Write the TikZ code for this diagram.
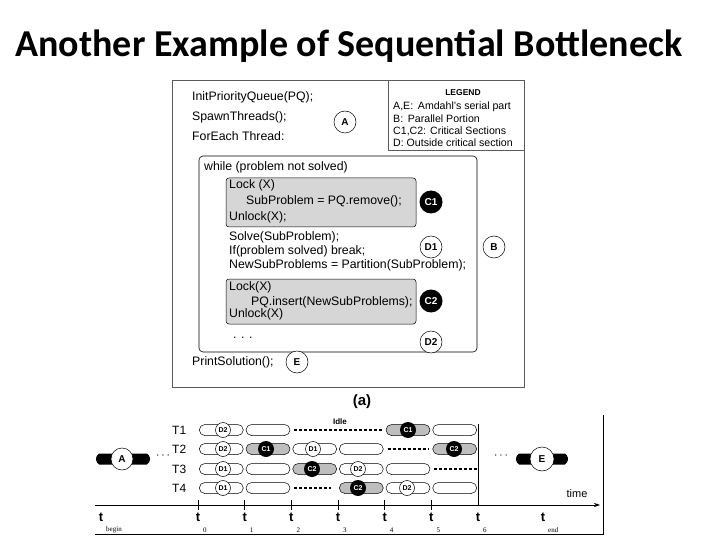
\documentclass[tikz,border=0pt]{standalone}
\usepackage{fontspec}
\setmainfont{Liberation Sans}
\newfontfamily\titlefont{Carlito}
\newfontfamily\serfont{Liberation Serif}
\usetikzlibrary{arrows.meta,shapes.misc}
\definecolor{codegray}{RGB}{214,214,214}
\definecolor{bargray}{RGB}{190,190,190}
\definecolor{framegray}{RGB}{90,90,90}
\begin{document}
\begin{tikzpicture}[x=1pt,y=-1pt,
  frame/.style={draw=framegray, line width=0.8pt},
  graybox/.style={draw=black, fill=codegray, line width=0.5pt, rounded corners=3pt},
  code/.style={anchor=west, inner sep=0pt, font=\fontsize{12.3}{14}\selectfont},
  leg/.style={anchor=west, inner sep=0pt, font=\fontsize{10.6}{11}\selectfont},
  wcirc/.style={circle, draw, line width=0.5pt, fill=white, minimum size=22pt, inner sep=0pt, font=\bfseries\fontsize{10}{12}\selectfont},
  bcirc/.style={circle, fill=black, text=white, minimum size=23pt, inner sep=0pt, font=\bfseries\fontsize{10}{12}\selectfont},
  seg/.style={rounded rectangle, draw, line width=0.5pt, fill=white, minimum width=44pt, minimum height=11pt, inner sep=0pt},
  gseg/.style={seg, fill=bargray},
  swc/.style={circle, draw, line width=0.5pt, fill=white, minimum size=15pt, inner sep=0pt, font=\bfseries\fontsize{7}{8}\selectfont},
  sbc/.style={circle, fill=black, text=white, minimum size=16pt, inner sep=0pt, font=\bfseries\fontsize{7}{8}\selectfont},
  idle/.style={line width=1.6pt, dash pattern=on 3pt off 2pt},
  rowlab/.style={anchor=west, inner sep=0pt, font=\fontsize{12}{14}\selectfont},
  tlab/.style={inner sep=0pt, font=\bfseries\fontsize{13}{14}\selectfont},
  tsub/.style={anchor=west, inner sep=0pt, font=\serfont\fontsize{7}{8}\selectfont},
  bbar/.style={rounded rectangle, rounded rectangle arc length=120, fill=black, minimum height=11pt, inner sep=0pt}
]
\useasboundingbox (0,0) rectangle (720,540);

% title
\node[inner sep=0pt, font=\titlefont\bfseries\fontsize{38}{42}\selectfont] (title) at (349,46) {Another Example of Sequential Bottleneck};

% code frames
\draw[frame] (172,80) rectangle (524,387);
\draw[frame] (388,80) rectangle (524,150);
\draw[line width=0.6pt, rounded corners=4pt] (199,156) rectangle (477,352);
\draw[graybox] (226,178) rectangle (416,227);
\draw[graybox] (226,279) rectangle (416,324);

% legend
\node[inner sep=0pt, font=\bfseries\fontsize{8.5}{10}\selectfont] (legt) at (463,93) {LEGEND};
\node[leg] (leg1) at (393,107) {A,E:\,\ Amdahl's serial part};
\node[leg] (leg2) at (393,119) {B:\,\ Parallel Portion};
\node[leg] (leg3) at (393,131) {C1,C2: Critical Sections};
\node[leg] (leg4) at (393,143) {D: Outside critical section};

% code text
\node[code] (l1) at (192,97) {InitPriorityQueue(PQ);};
\node[code] (l2) at (192,117) {SpawnThreads();};
\node[code] (l3) at (192,136) {ForEach Thread:};
\node[code] (l4) at (204,167) {while (problem not solved)};
\node[code] (l5) at (229,185) {Lock (X)};
\node[code] (l6) at (246,201) {SubProblem = PQ.remove();};
\node[code] (l7) at (229,217) {Unlock(X);};
\node[code] (l8) at (229,237) {Solve(SubProblem);};
\node[code] (l9) at (229,251) {If(problem solved) break;};
\node[code] (l10) at (229,265) {NewSubProblems = Partition(SubProblem);};
\node[code] (l11) at (229,287) {Lock(X)};
\node[code] (l12) at (251,302) {PQ.insert(NewSubProblems);};
\node[code] (l13) at (229,314) {Unlock(X)};
\node[code] (l14) at (233,338) {. . .};
\node[code] (l15) at (192,362) {PrintSolution();};

% code circles
\node[wcirc] (cA) at (345,122) {A};
\node[bcirc] (cC1) at (431,202) {C1};
\node[wcirc] (cD1) at (431,247) {D1};
\node[wcirc] (cB) at (494,247) {B};
\node[bcirc] (cC2) at (431,301) {C2};
\node[wcirc] (cD2) at (431,342) {D2};
\node[wcirc] (cE) at (297,362) {E};

% caption
\node[inner sep=0pt, font=\bfseries\fontsize{15}{16}\selectfont] (cap) at (362,402) {(a)};

% rows labels
\node[rowlab] (T1) at (172,430) {T1};
\node[rowlab] (T2) at (172,449) {T2};
\node[rowlab] (T3) at (172,469) {T3};
\node[rowlab] (T4) at (172,488) {T4};

% T1
\node[seg] (a1) at (221.3,430) {};
\node[seg] (a2) at (268.0,430) {};
\node[gseg] (a5) at (408.0,430) {};
\node[seg] (a6) at (454.7,430) {};
\node[swc] (a1c) at (223,430) {D2};
\node[sbc] (a5c) at (408,430) {C1};
\draw[idle] (a2.east) ++(4,0) coordinate (i1s) -- ([xshift=-3pt]a5.west) coordinate (i1e);
\node[inner sep=0pt, font=\bfseries\fontsize{8}{9}\selectfont] (idlelab) at (340,422) {Idle};

% T2
\node[seg] (b1) at (221.3,449) {};
\node[gseg] (b2) at (268.0,449) {};
\node[seg] (b3) at (314.7,449) {};
\node[seg] (b4) at (361.3,449) {};
\node[gseg] (b6) at (454.7,449) {};
\node[swc] (b1c) at (223,449) {D2};
\node[sbc] (b2c) at (266,449) {C1};
\node[swc] (b3c) at (313,449) {D1};
\node[sbc] (b6c) at (454,449) {C2};
\draw[idle] ([xshift=4pt]b4.east) -- ([xshift=-3pt]b6.west);

% T3
\node[seg] (c1) at (221.3,469) {};
\node[seg] (c2) at (268.0,469) {};
\node[gseg] (c3) at (314.7,469) {};
\node[seg] (c4) at (361.3,469) {};
\node[seg] (c5) at (408.0,469) {};
\node[swc] (c1c) at (223,469) {D1};
\node[sbc] (c3c) at (312,469) {C2};
\node[swc] (c4c) at (358,469) {D2};
\coordinate (c6e) at (478,469);
\draw[idle] ([xshift=4pt]c5.east) -- (c6e);

% T4
\node[seg] (d1) at (221.3,488) {};
\node[seg] (d2) at (268.0,488) {};
\node[gseg] (d4) at (361.3,488) {};
\node[seg] (d5) at (408.0,488) {};
\node[seg] (d6) at (454.7,488) {};
\node[swc] (d1c) at (223,488) {D1};
\node[sbc] (d4c) at (358,488) {C2};
\node[swc] (d5c) at (407,488) {D2};
\draw[idle] ([xshift=4pt]d2.east) -- ([xshift=-8pt]d4.west);

% A and E bars
\node[bbar, minimum width=54pt] (Abar) at (123,459) {};
\node[wcirc, minimum size=22pt] (Ac) at (122,459) {A};
\node[inner sep=0pt, font=\bfseries\fontsize{12}{12}\selectfont] (Adots) at (163,456) {$\cdots$};
\node[bbar, minimum width=52pt] (Ebar) at (542,459) {};
\node[wcirc, minimum size=24pt] (Ec) at (542,459) {E};
\node[inner sep=0pt, font=\bfseries\fontsize{12}{12}\selectfont] (Edots) at (501,456) {$\cdots$};

% axis
\coordinate (ax0) at (95,505);
\coordinate (ax1) at (600,505);
\draw[line width=0.6pt, -{Stealth[length=6pt,width=4pt]}] (ax0) -- (ax1);
\node[inner sep=0pt, font=\fontsize{11}{12}\selectfont] (timelab) at (577,494) {time};
\foreach \i/\x in {0/198,1/244.7,2/291.3,3/338,4/384.7,5/431.3} {
  \draw[line width=0.5pt] (\x,500) -- (\x,510);
}
\coordinate (t6top) at (478,424);
\coordinate (t6bot) at (478,505);
\draw[line width=0.6pt] (t6top) -- (t6bot);

% frame of timeline
\coordinate (fr1) at (603,415);
\coordinate (fr2) at (603,534);
\coordinate (fr3) at (95,534);
\draw[line width=0.6pt] (fr1) -- (fr2) -- (fr3);

% time labels
\foreach \nm/\x/\s in {tb/101/begin,t0/198/0,t1/244.7/1,t2/291.3/2,t3/338/3,t4/384.7/4,t5/431.3/5,t6/478/6,te/543/end} {
  \node[tlab] (\nm) at (\x,517) {t};
  \node[tsub] (\nm s) at (\x+5,530) {\s};
}
\end{tikzpicture}
\end{document}
